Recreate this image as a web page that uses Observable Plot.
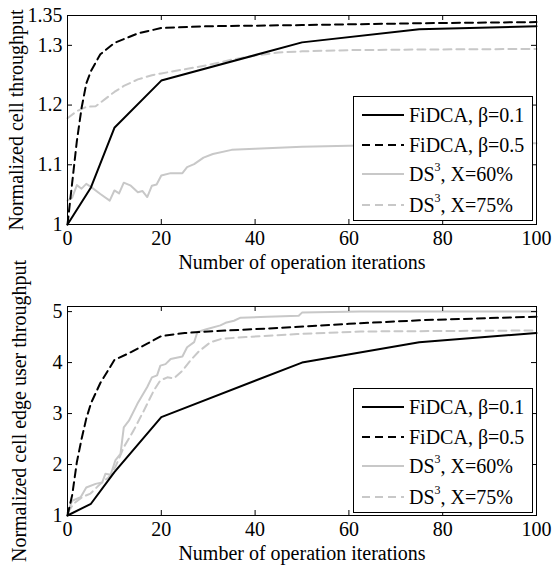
<!DOCTYPE html>
<html><head><meta charset="utf-8">
<script src="https://cdn.jsdelivr.net/npm/d3@7"></script>
<script src="https://cdn.jsdelivr.net/npm/@observablehq/plot@0.6"></script>
<style>
body{margin:0;background:#fff;}
#wrap{position:relative;width:552px;height:566px;font-family:"Liberation Serif",serif;overflow:hidden;}
.panel{position:absolute;left:0;}
.panel svg{overflow:visible;}
.legend{position:absolute;left:353px;width:178px;height:123px;border:1px solid #000;background:#fff;font-size:20px;color:#000;}
.legend .row{position:absolute;left:0;height:30px;display:flex;align-items:center;white-space:nowrap;}
.legend svg{display:block;margin-left:8px;margin-right:5px;}
.legend sup{font-size:12px;vertical-align:top;position:relative;top:-3px;}
</style></head>
<body>
<div id="wrap"></div>
<script>
// ---------- data ----------
const seriesNames = ["FiDCA, β=0.1", "FiDCA, β=0.5", "DS3, X=60%", "DS3, X=75%"];
const xTicks = [0, 20, 40, 60, 80, 100];
const yTicksTop = [1, 1.1, 1.2, 1.3, 1.35];
const yTicksBot = [1, 2, 3, 4, 5];

// Top panel: normalized cell throughput
const fidca01TopX = [0, 5, 10, 20, 50, 75, 100];
const fidca01TopY = [1.0, 1.062, 1.162, 1.241, 1.305, 1.327, 1.332];
const fidca05TopX = [0, 1, 2, 3, 4, 5, 7, 10, 15, 20, 30, 50, 75, 100];
const fidca05TopY = [1.0, 1.07, 1.14, 1.195, 1.236, 1.257, 1.285, 1.304, 1.32, 1.329, 1.332, 1.334, 1.337, 1.339];
const ds60TopX = [0, 1, 2, 3, 4, 5, 7, 9, 10, 11, 12, 13.5, 15, 16, 17, 18, 19, 20, 22, 24.5, 25.5, 27, 29, 31, 35, 40, 50, 60, 75, 100];
const ds60TopY = [1.04, 1.045, 1.066, 1.06, 1.068, 1.063, 1.051, 1.04, 1.057, 1.052, 1.07, 1.065, 1.054, 1.056, 1.046, 1.065, 1.067, 1.082, 1.086, 1.086, 1.096, 1.101, 1.112, 1.118, 1.125, 1.127, 1.13, 1.132, 1.134, 1.136];
const ds75TopX = [0, 2, 4, 6, 8, 10, 12, 15, 18, 20, 25, 30, 35, 40, 45, 50, 60, 75, 100];
const ds75TopY = [1.178, 1.19, 1.197, 1.198, 1.21, 1.222, 1.232, 1.243, 1.25, 1.253, 1.26, 1.267, 1.276, 1.283, 1.288, 1.29, 1.292, 1.293, 1.294];

// Bottom panel: normalized cell edge user throughput
const fidca01BotX = [0, 5, 10, 20, 50, 75, 100];
const fidca01BotY = [1.0, 1.23, 1.85, 2.93, 4.0, 4.4, 4.58];
const fidca05BotX = [0, 1, 2, 3, 4, 5, 7, 10, 13, 17, 20, 25, 30, 45, 60, 75, 100];
const fidca05BotY = [1.0, 1.4, 2.05, 2.5, 2.9, 3.2, 3.6, 4.05, 4.18, 4.37, 4.52, 4.58, 4.61, 4.68, 4.76, 4.83, 4.9];
const ds60BotX = [0, 1, 2.8, 4, 6, 7.4, 8.1, 9.2, 10.2, 11.3, 12, 13.1, 14.9, 17, 18, 19.1, 19.8, 20.9, 22, 24.5, 25.5, 27, 27.7, 29.8, 32.6, 33.7, 35.5, 36.9, 42.6, 49.3, 50, 62.5, 75, 100];
const ds60BotY = [1.05, 1.29, 1.36, 1.55, 1.62, 1.65, 1.82, 1.8, 2.08, 2.21, 2.73, 2.86, 3.19, 3.52, 3.71, 3.75, 3.94, 3.97, 4.07, 4.12, 4.3, 4.4, 4.6, 4.66, 4.73, 4.78, 4.82, 4.88, 4.9, 4.92, 4.98, 5.0, 5.0, 5.0];
const ds75BotX = [0, 1.3, 3.1, 4.9, 7, 8.8, 10.2, 12, 14.1, 16.3, 18.4, 19.8, 21.3, 22.7, 24.5, 26.2, 28, 30.5, 33, 38, 49, 62.5, 100];
const ds75BotY = [1.05, 1.23, 1.36, 1.43, 1.62, 1.75, 1.95, 2.34, 2.67, 3.06, 3.45, 3.65, 3.71, 3.69, 3.84, 4.04, 4.22, 4.4, 4.47, 4.5, 4.56, 4.61, 4.63];

// ---------- styles ----------
const GRAY = "#c8c8c8";
const DASH = "8,5";
const FONT = "Liberation Serif, serif";

function pts(xs, ys) { return xs.map((x, i) => ({x, y: ys[i]})); }

function panel({top, height, mTop, mBottom, yDomain, yTicks, yLabel, yLabelDx, series}) {
  const mLeft = 67, mRight = 16;
  const innerH = height - mTop - mBottom;
  const innerW = 552 - mLeft - mRight;
  const chart = Plot.plot({
    width: 552, height,
    marginTop: mTop, marginBottom: mBottom, marginLeft: mLeft, marginRight: mRight,
    style: {fontFamily: FONT, fontSize: "20px", background: "transparent", color: "#000"},
    x: {domain: [0, 100]},
    y: {domain: yDomain},
    marks: [
      // lines (gray first so black ones sit on top)
      Plot.line(pts(series[2][0], series[2][1]), {x: "x", y: "y", stroke: GRAY, strokeWidth: 2}),
      Plot.line(pts(series[3][0], series[3][1]), {x: "x", y: "y", stroke: GRAY, strokeWidth: 2, strokeDasharray: DASH}),
      Plot.line(pts(series[0][0], series[0][1]), {x: "x", y: "y", stroke: "#000", strokeWidth: 2}),
      Plot.line(pts(series[1][0], series[1][1]), {x: "x", y: "y", stroke: "#000", strokeWidth: 2, strokeDasharray: DASH}),
      // inward ticks
      Plot.tickX(xTicks, {x: d => d, stroke: "#000", insetTop: innerH - 5}),
      Plot.tickX(xTicks, {x: d => d, stroke: "#000", insetBottom: innerH - 5}),
      Plot.tickY(yTicks, {y: d => d, stroke: "#000", insetRight: innerW - 5}),
      Plot.tickY(yTicks, {y: d => d, stroke: "#000", insetLeft: innerW - 5}),
      Plot.frame({stroke: "#000", strokeWidth: 1}),
      // tick labels
      Plot.axisX({ticks: xTicks, tickSize: 0, tickPadding: 6, fontSize: 20, label: null, tickFormat: d => String(d)}),
      Plot.axisY({ticks: yTicks, tickSize: 0, tickPadding: 5, fontSize: 20, label: null, tickFormat: d => String(d)}),
      // axis titles
      Plot.text(["Number of operation iterations"], {frameAnchor: "bottom", text: d => d, dy: 38, lineAnchor: "middle", textAnchor: "middle", fontSize: 20, fill: "#000"}),
      Plot.text([yLabel], {frameAnchor: "left", text: d => d, rotate: -90, dx: yLabelDx, lineAnchor: "middle", textAnchor: "middle", fontSize: 20, fill: "#000"})
    ]
  });
  const div = document.createElement("div");
  div.className = "panel";
  div.style.top = top + "px";
  div.appendChild(chart);
  document.getElementById("wrap").appendChild(div);
}

function legend(top) {
  const lg = document.createElement("div");
  lg.className = "legend";
  lg.style.top = top + "px";
  const styles = [
    {stroke: "#000", dash: null},
    {stroke: "#000", dash: DASH},
    {stroke: GRAY, dash: null},
    {stroke: GRAY, dash: DASH}
  ];
  const labels = [seriesNames[0], seriesNames[1], "DS<sup>3</sup>, X=60%", "DS<sup>3</sup>, X=75%"];
  const rowTops = [3, 33, 62, 93];
  labels.forEach((lab, i) => {
    const row = document.createElement("div");
    row.className = "row";
    row.style.top = rowTops[i] + "px";
    const s = styles[i];
    row.innerHTML = `<svg width="42" height="6"><line x1="0" x2="42" y1="3" y2="3" stroke="${s.stroke}" stroke-width="2.2"${s.dash ? ` stroke-dasharray="${s.dash}"` : ""}/></svg><span>${lab}</span>`;
    lg.appendChild(row);
  });
  document.getElementById("wrap").appendChild(lg);
}

panel({
  top: 0, height: 280, mTop: 15, mBottom: 56,
  yDomain: [1, 1.35], yTicks: yTicksTop,
  yLabel: "Normalized cell throughput", yLabelDx: -51,
  series: [[fidca01TopX, fidca01TopY], [fidca05TopX, fidca05TopY], [ds60TopX, ds60TopY], [ds75TopX, ds75TopY]]
});
panel({
  top: 280, height: 286, mTop: 26, mBottom: 51,
  yDomain: [1, 5.1], yTicks: yTicksBot,
  yLabel: "Normalized cell edge user throughput", yLabelDx: -48,
  series: [[fidca01BotX, fidca01BotY], [fidca05BotX, fidca05BotY], [ds60BotX, ds60BotY], [ds75BotX, ds75BotY]]
});
legend(96);
legend(388);
</script>
</body></html>
